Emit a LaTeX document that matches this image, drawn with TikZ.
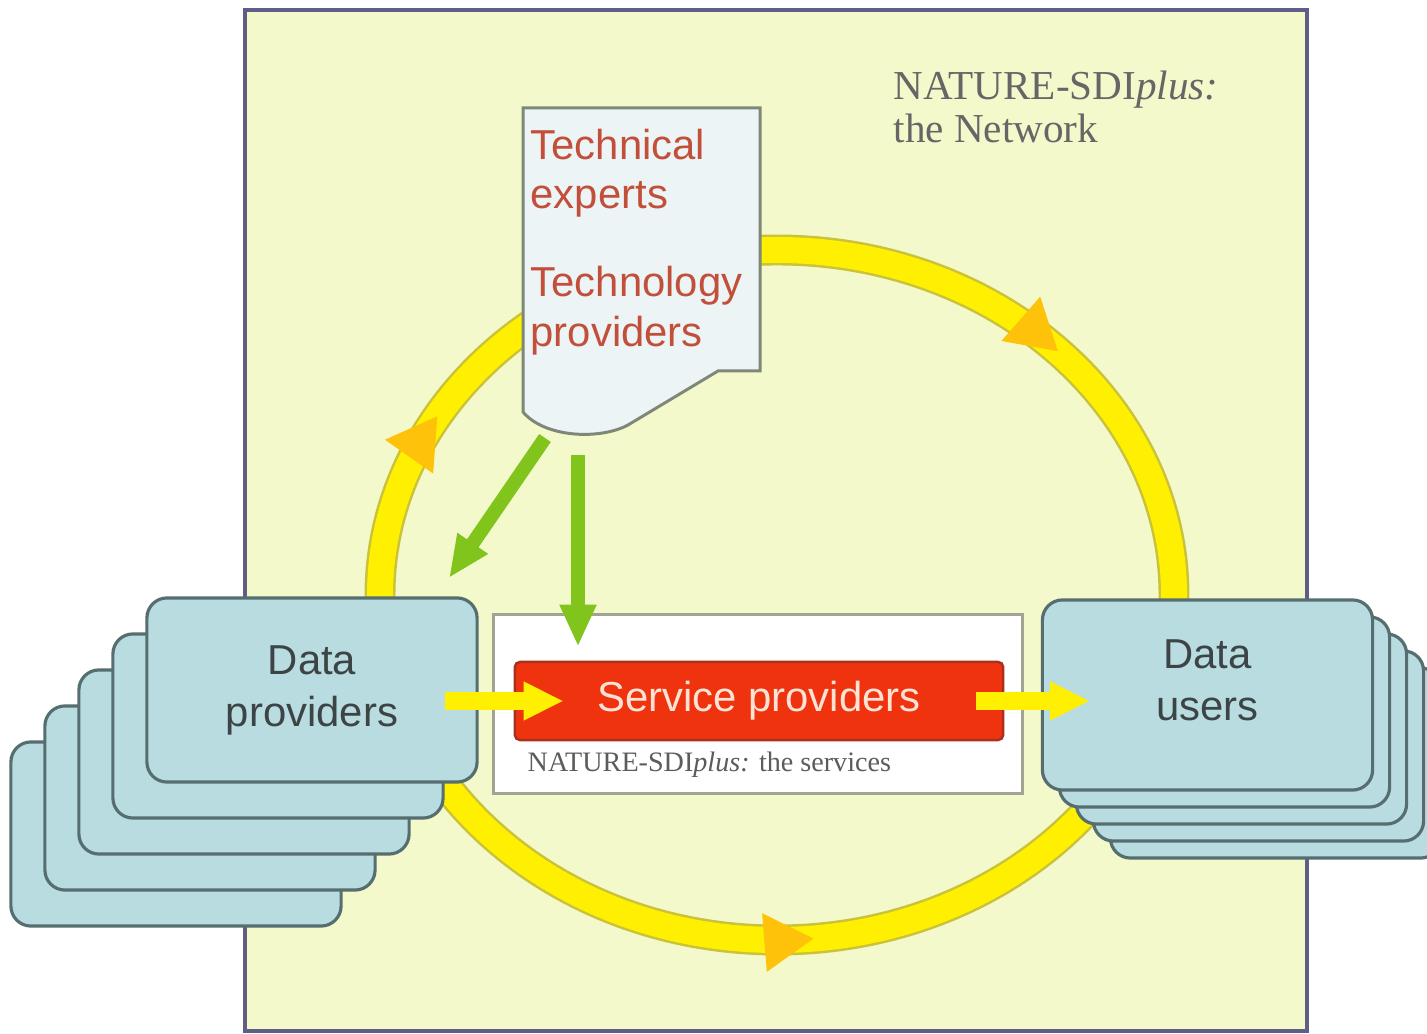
\documentclass[tikz,border=0pt]{standalone}
\usepackage{fontspec}
\setmainfont{Liberation Serif}
\setsansfont{Liberation Sans}
\usetikzlibrary{arrows.meta,decorations.markings}
\definecolor{framefill}{HTML}{F4F9CC}
\definecolor{frameline}{HTML}{5E5E86}
\definecolor{cardfill}{HTML}{B9DCE0}
\definecolor{cardline}{HTML}{566E70}
\definecolor{cardtext}{HTML}{3C4446}
\definecolor{docfill}{HTML}{EDF4F6}
\definecolor{docline}{HTML}{7F8878}
\definecolor{loopyellow}{HTML}{FFEF00}
\definecolor{loopedge}{HTML}{C9C23A}
\definecolor{loophead}{HTML}{FFC20A}
\definecolor{leafgreen}{HTML}{80C41C}
\definecolor{servred}{HTML}{F0330F}
\definecolor{servline}{HTML}{A8301C}
\definecolor{servtext}{HTML}{FFE4D6}
\definecolor{servgray}{HTML}{A3A392}
\definecolor{textred}{HTML}{C24F3A}
\definecolor{textgrey}{HTML}{666666}
\tikzset{%
	netframe/.style 	= {draw=frameline, fill=framefill, line width=1.4pt},
	card/.style     	= {draw=cardline, fill=cardfill, line width=0.9pt, rounded corners=0.2cm, minimum width=3.3cm, minimum height=1.84cm, align=center, text=cardtext, font=\sffamily\fontsize{11.9}{14.8}\selectfont},
	usercard/.style 	= {card, minimum height=1.9cm},
	doc/.style      	= {draw=docline, fill=docfill, line width=0.85pt},
	servframe/.style	= {draw=servgray, fill=white, line width=0.85pt, minimum width=5.28cm, minimum height=1.78cm},
	servbox/.style  	= {draw=servline, fill=servred, line width=0.7pt, rounded corners=0.05cm, minimum width=4.88cm, minimum height=0.78cm, text=servtext, font=\sffamily\fontsize{11.9}{14}\selectfont},
	ringedge/.style 	= {draw=loopedge, line width=8.8pt},
	ring/.style     	= {draw=loopyellow, line width=7.4pt},
	flow/.style     	= {draw=loopyellow, line width=5pt, -{Triangle[length=0.4cm, width=0.36cm]}},
	feed/.style     	= {draw=leafgreen, line width=4pt, -{Triangle[length=0.42cm, width=0.34cm]}},
	redtext/.style  	= {inner sep=0pt, text=textred, font=\sffamily\fontsize{11.9}{14.2}\selectfont},
	greytext/.style 	= {inner sep=0pt, text=textgrey, font=\fontsize{11.7}{12.2}\selectfont}
}

\begin{document}
\begin{tikzpicture}[x=0.01cm, y=-0.01cm]
	\useasboundingbox (0,0) rectangle (1427,1034);
	\clip (0,0) rectangle (1427,1034);
	\fill[white] (0,0) rectangle (1427,1034);

	% The network frame
	\draw[netframe] (245,10) rectangle (1307,1031);
	\node[greytext, anchor=base west] (nethead) at (893,100) {NATURE-SDI\textit{plus:}};
	\node[greytext, anchor=base west] (netsub) at (893,143) {the Network};

	% The yellow loop
	\draw[ringedge] (777,595) ellipse [x radius=397, y radius=345];
	\draw[ring, postaction={decorate}, decoration={markings,
		mark=at position 0.234 with {\arrowreversed[color=loophead]{Triangle[length=0.5cm, width=0.55cm]}},
		mark=at position 0.582 with {\arrow[color=loophead]{Triangle[length=0.5cm, width=0.55cm]}},
		mark=at position 0.881 with {\arrow[color=loophead]{Triangle[length=0.5cm, width=0.55cm]}}}]
		(777,595) ellipse [x radius=397, y radius=345];

	% Technical experts sheet
	\draw[doc] (523,108) -- (760,108) -- (760,371) -- (718,371) -- (628,425)
		.. controls (600,440) and (545,438) .. (523,412) -- cycle;
	\node[redtext, anchor=north west, align=left] (experts) at (530,128)
		{Technical\\experts\\[0.38cm]Technology\\providers};

	% Services
	\draw
	node at (758,704) [servframe] (service) {}
	node at (759,701) [servbox] (redbox) {Service providers}
	;
	\node[greytext, font=\fontsize{8}{9}\selectfont, text=textgrey!90!black, anchor=base west] (servnote) at (527,772) {NATURE-SDI\textit{plus:} the services};

	% Data providers stack
	\draw
	node at (176,834) [card] (prov4) {}
	node at (210,798) [card] (prov3) {}
	node at (244,762) [card] (prov2) {}
	node at (278,726) [card] (prov1) {}
	node at (312,690) [card] (prov) {Data\\providers}
	;

	% Data users stack
	\draw
	node at (1275.5,763) [usercard] (user4) {}
	node at (1258.5,746) [usercard] (user3) {}
	node at (1241.5,729) [usercard] (user2) {}
	node at (1224.5,712) [usercard] (user1) {}
	node at (1207.5,695) [usercard, text depth=0.3cm] (user) {Data\\users}
	;

	% Drawing the arrows
	\coordinate (docfoot) at (545,438);
	\coordinate (provtop) at (449,578);
	\coordinate (docdrop) at (578,455);
	\coordinate (provout) at (445,701);
	\coordinate (userin) at (1090,701);
	\draw[feed] (docfoot) -- (provtop);
	\draw[feed, shorten >=0.14cm] (docdrop) -- (docdrop |- redbox.north);
	\draw[flow, shorten >=-0.5cm] (provout) -- (provout -| redbox.west);
	\draw[flow] ([xshift=-0.28cm]redbox.east) -- (userin);
\end{tikzpicture}
\end{document}
